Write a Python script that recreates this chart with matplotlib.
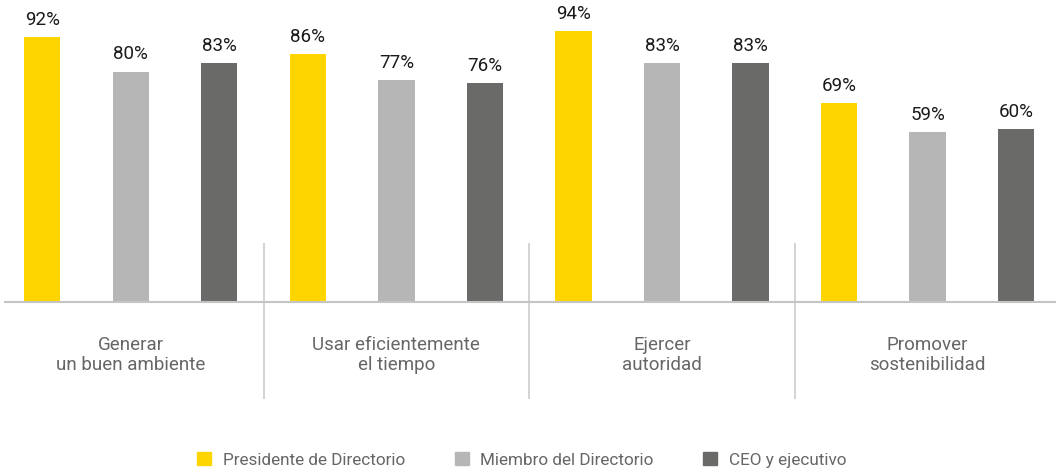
import matplotlib.pyplot as plt
from matplotlib.patches import Patch

plt.rcParams['font.family'] = ['Roboto', 'DejaVu Sans']

# Values
categories = ['Generar\nun buen ambiente', 'Usar eficientemente\nel tiempo',
              'Ejercer\nautoridad', 'Promover\nsostenibilidad']
series = ['Presidente de Directorio', 'Miembro del Directorio', 'CEO y ejecutivo']
presidente = [92, 86, 94, 69]
miembro = [80, 77, 83, 59]
ceo = [83, 76, 83, 60]

colors = ['#FFD500', '#B6B6B6', '#6A6A69']
values = [presidente, miembro, ceo]

fig = plt.figure(figsize=(10.56, 4.74), dpi=100)
ax = fig.add_axes([5/1056, (474-302)/474, 1051/1056, 288/474])

for j, (vals, col, name) in enumerate(zip(values, colors, series)):
    xs = [i*3 + j for i in range(len(categories))]
    bars = ax.bar(xs, vals, width=0.41, color=col, label=name)
    for x, v in zip(xs, vals):
        ax.annotate(f'{v}%', (x, v), xytext=(0, 6), textcoords='offset points',
                    ha='center', va='bottom', fontsize=13.5, color='#1a1a1a')

ax.set_xlim(-0.42, 11.45)
ax.set_ylim(0, 100)

# group separators
ax.vlines([2.5, 5.5, 8.5], -33.7, 20.5, color='#cccccc', lw=1.2, clip_on=False)

for i, cat in enumerate(categories):
    ax.text(i*3 + 1, -18.3, cat, ha='center', va='center', fontsize=13.5,
            color='#666666', linespacing=1.15)

for s in ['top', 'right', 'left']:
    ax.spines[s].set_visible(False)
ax.spines['bottom'].set_color('#c4c4c4')
ax.spines['bottom'].set_linewidth(1.5)
ax.set_xticks([])
ax.set_yticks([])

handles = [Patch(color=c, label=n) for c, n in zip(colors, series)]
fig.legend(handles=handles, loc='center', bbox_to_anchor=(522/1056, 1-460/474),
           ncol=3, frameon=False, fontsize=12.3, labelcolor='#666666',
           handlelength=0.8, handleheight=0.8, handletextpad=0.7,
           columnspacing=2.9)

plt.savefig('out.png', dpi=100)
